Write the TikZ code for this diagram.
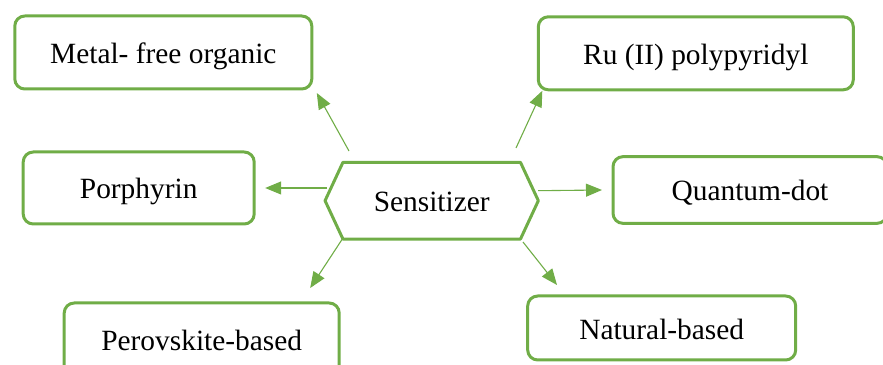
\documentclass[tikz,border=0pt]{standalone}
\usepackage{fontspec}
\setmainfont{Liberation Serif}
\usetikzlibrary{arrows.meta,shapes.symbols}
\definecolor{leafgreen}{RGB}{112,173,71}
\tikzset{
  label text/.style={font=\fontsize{29.5}{34}\selectfont,text height=22bp,text depth=0bp},
  typebox/.style={draw=leafgreen,line width=3bp,rounded corners=10bp,outer sep=0pt,
    fill=white,label text},
  hexbox/.style={draw=leafgreen,line width=3bp,outer sep=0pt,signal,signal to=west and east,
    signal pointer angle=130,minimum width=213.3bp,minimum height=76.7bp,label text},
  link/.style={leafgreen,line width=1.1bp,->},
}
\begin{document}
\begin{tikzpicture}[>={Triangle[length=16bp,width=13bp]},line join=bevel,]
\useasboundingbox (0bp,0bp) rectangle (883bp,365bp);
%%
\node (sens) at (431.7bp,164.3bp) [hexbox] {Sensitizer};
  \node (metal) at (163.3bp,312.5bp) [typebox,minimum width=297bp,minimum height=73bp] {Metal- free organic};
  \node (ru) at (695.8bp,311.7bp) [typebox,minimum width=315bp,minimum height=73bp] {Ru (II) polypyridyl};
  \node (porph) at (138.7bp,177bp) [typebox,minimum width=231bp,minimum height=72bp] {Porphyrin};
  \node (qdot) at (750bp,175bp) [typebox,minimum width=274bp,minimum height=66.7bp] {Quantum-dot};
  \node (perov) at (201.7bp,26bp) [typebox,minimum width=275bp,minimum height=72bp] {Perovskite-based};
  \node (natural) at (661.7bp,37bp) [typebox,minimum width=268bp,minimum height=64bp] {Natural-based};
  \draw [link] ([shift={(-82.7bp,49.7bp)}]sens.center) -- ([shift={(5bp,-4bp)}]metal.south east);
  \draw [link] ([shift={(84.3bp,52.7bp)}]sens.center) -- ([shift={(4bp,-1bp)}]ru.south west);
  \draw [link] ([shift={(-104.7bp,12.7bp)}]sens.center) -- ([shift={(11bp,0bp)}]porph.east);
  \draw [link] ([shift={(106.3bp,10bp)}]sens.center) -- ([shift={(-11bp,0bp)}]qdot.west);
  \draw [link] ([shift={(-88.7bp,-37.3bp)}]sens.center) -- ([shift={(-29bp,15bp)}]perov.north east);
  \draw [link] ([shift={(91.3bp,-41.3bp)}]sens.center) -- ([shift={(29.3bp,11bp)}]natural.north west);
%
\end{tikzpicture}
\end{document}
